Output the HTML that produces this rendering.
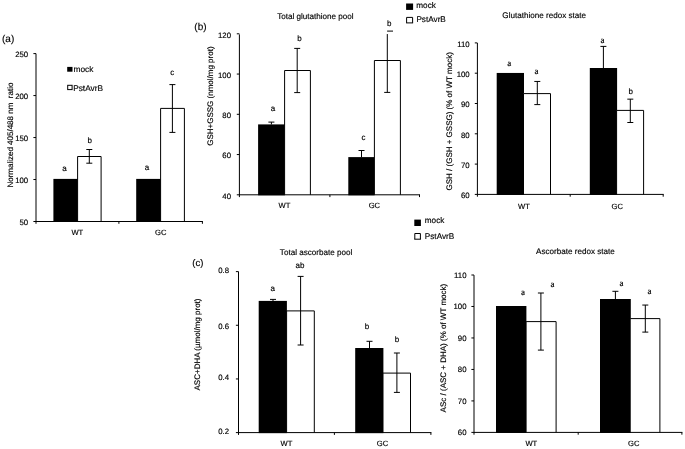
<!DOCTYPE html>
<html><head><meta charset="utf-8"><style>
html,body{margin:0;padding:0;background:#fff;}
svg{display:block;font-family:"Liberation Sans", sans-serif;text-rendering:geometricPrecision;filter:grayscale(1);}
text{fill:#000;stroke:#000;stroke-width:0.15px;}
</style></head><body>
<svg width="685" height="449" viewBox="0 0 685 449">
<rect x="0" y="0" width="685" height="449" fill="#fff"/>
<rect x="53.4" y="178.9" width="24.5" height="43.1" fill="#000"/>
<path d="M77.6 221.5V156.5H101.1V221.5" fill="#fff" stroke="#000" stroke-width="1"/>
<line x1="89.3" y1="149.5" x2="89.3" y2="163.2" stroke="#000" stroke-width="1"/>
<line x1="86.3" y1="149.5" x2="92.3" y2="149.5" stroke="#000" stroke-width="1"/>
<line x1="86.3" y1="163.2" x2="92.3" y2="163.2" stroke="#000" stroke-width="1"/>
<rect x="136.2" y="178.9" width="24.7" height="43.1" fill="#000"/>
<path d="M160.6 221.5V108.4H184.4V221.5" fill="#fff" stroke="#000" stroke-width="1"/>
<line x1="172.4" y1="84.6" x2="172.4" y2="132.4" stroke="#000" stroke-width="1"/>
<line x1="169.4" y1="84.6" x2="175.4" y2="84.6" stroke="#000" stroke-width="1"/>
<line x1="169.4" y1="132.4" x2="175.4" y2="132.4" stroke="#000" stroke-width="1"/>
<line x1="36.0" y1="53.6" x2="36.0" y2="223.8" stroke="#000" stroke-width="1"/>
<line x1="33.4" y1="53.6" x2="36.0" y2="53.6" stroke="#000" stroke-width="1"/>
<text x="28.2" y="56.69" font-size="7.8" text-anchor="end">250</text>
<line x1="33.4" y1="95.575" x2="36.0" y2="95.575" stroke="#000" stroke-width="1"/>
<text x="28.2" y="98.94" font-size="7.8" text-anchor="end">200</text>
<line x1="33.4" y1="137.55" x2="36.0" y2="137.55" stroke="#000" stroke-width="1"/>
<text x="28.2" y="140.94" font-size="7.8" text-anchor="end">150</text>
<line x1="33.4" y1="179.525" x2="36.0" y2="179.525" stroke="#000" stroke-width="1"/>
<text x="28.2" y="183.49" font-size="7.8" text-anchor="end">100</text>
<line x1="33.4" y1="221.5" x2="36.0" y2="221.5" stroke="#000" stroke-width="1"/>
<text x="28.2" y="225.29" font-size="7.8" text-anchor="end">50</text>
<line x1="36.0" y1="221.5" x2="202.9" y2="221.5" stroke="#000" stroke-width="1"/>
<line x1="118.9" y1="221.5" x2="118.9" y2="223.8" stroke="#000" stroke-width="1"/>
<line x1="202.4" y1="221.5" x2="202.4" y2="223.8" stroke="#000" stroke-width="1"/>
<text x="64.5" y="170.5" font-size="8" text-anchor="middle">a</text>
<text x="89.7" y="142.7" font-size="8" text-anchor="middle">b</text>
<text x="147" y="170" font-size="8" text-anchor="middle">a</text>
<text x="172.2" y="74.7" font-size="8" text-anchor="middle">c</text>
<text x="77.3" y="235" font-size="7.6" text-anchor="middle">WT</text>
<text x="160.7" y="235" font-size="7.6" text-anchor="middle">GC</text>
<text x="13.1" y="135.1" font-size="8" text-anchor="middle" transform="rotate(-90 13.1 135.1)">Normalized 405/488 nm&#160;&#160;ratio</text>
<text x="2" y="41.6" font-size="10" text-anchor="start">(a)</text>
<rect x="67.2" y="66.9" width="5.3" height="4.8" fill="#000"/>
<text x="73.6" y="71.8" font-size="8.3" text-anchor="start">mock</text>
<rect x="67.7" y="85.3" width="4.4" height="4.3" fill="#fff" stroke="#000" stroke-width="1"/>
<text x="73.2" y="90.8" font-size="8.3" text-anchor="start">PstAvrB</text>
<rect x="258.1" y="124.4" width="26.8" height="70.9" fill="#000"/>
<line x1="271.4" y1="122.1" x2="271.4" y2="124.5" stroke="#000" stroke-width="1"/>
<line x1="268.4" y1="122.1" x2="274.4" y2="122.1" stroke="#000" stroke-width="1"/>
<path d="M284.6 194.8V70.5H310.4V194.8" fill="#fff" stroke="#000" stroke-width="1"/>
<line x1="297.2" y1="48.4" x2="297.2" y2="92.6" stroke="#000" stroke-width="1"/>
<line x1="294.2" y1="48.4" x2="300.2" y2="48.4" stroke="#000" stroke-width="1"/>
<line x1="294.2" y1="92.6" x2="300.2" y2="92.6" stroke="#000" stroke-width="1"/>
<rect x="348.3" y="157.1" width="26.3" height="38.2" fill="#000"/>
<line x1="361.5" y1="150.5" x2="361.5" y2="157.2" stroke="#000" stroke-width="1"/>
<line x1="358.5" y1="150.5" x2="364.5" y2="150.5" stroke="#000" stroke-width="1"/>
<path d="M374.4 194.8V60.5H400.4V194.8" fill="#fff" stroke="#000" stroke-width="1"/>
<line x1="387.3" y1="34.05" x2="387.3" y2="92.4" stroke="#000" stroke-width="1"/>
<line x1="384.2" y1="92.4" x2="390.3" y2="92.4" stroke="#000" stroke-width="1"/>
<line x1="387.1" y1="31.1" x2="393.0" y2="31.1" stroke="#000" stroke-width="1"/>
<line x1="239.4" y1="34.4" x2="239.4" y2="197.10000000000002" stroke="#000" stroke-width="1"/>
<line x1="236.8" y1="33.80000000000001" x2="239.4" y2="33.80000000000001" stroke="#000" stroke-width="1"/>
<text x="231" y="37.69" font-size="7.8" text-anchor="end">120</text>
<line x1="236.8" y1="74.05" x2="239.4" y2="74.05" stroke="#000" stroke-width="1"/>
<text x="231" y="77.94" font-size="7.8" text-anchor="end">100</text>
<line x1="236.8" y1="114.30000000000001" x2="239.4" y2="114.30000000000001" stroke="#000" stroke-width="1"/>
<text x="231" y="118.19" font-size="7.8" text-anchor="end">80</text>
<line x1="236.8" y1="154.55" x2="239.4" y2="154.55" stroke="#000" stroke-width="1"/>
<text x="231" y="158.44" font-size="7.8" text-anchor="end">60</text>
<line x1="236.8" y1="194.8" x2="239.4" y2="194.8" stroke="#000" stroke-width="1"/>
<text x="231" y="198.69" font-size="7.8" text-anchor="end">40</text>
<line x1="239.4" y1="194.8" x2="420.0" y2="194.8" stroke="#000" stroke-width="1"/>
<line x1="329.9" y1="194.8" x2="329.9" y2="197.10000000000002" stroke="#000" stroke-width="1"/>
<line x1="419.5" y1="194.8" x2="419.5" y2="197.10000000000002" stroke="#000" stroke-width="1"/>
<text x="273" y="110.6" font-size="8" text-anchor="middle">a</text>
<text x="299.4" y="40.8" font-size="8" text-anchor="middle">b</text>
<text x="363.6" y="140.3" font-size="8" text-anchor="middle">c</text>
<text x="389.2" y="26.4" font-size="8" text-anchor="middle">b</text>
<text x="284.5" y="207.8" font-size="7.6" text-anchor="middle">WT</text>
<text x="374.4" y="207.8" font-size="7.6" text-anchor="middle">GC</text>
<text x="315.4" y="19.2" font-size="8.1" text-anchor="middle">Total glutathione pool</text>
<text x="213.1" y="96.1" font-size="8" text-anchor="middle" transform="rotate(-90 213.1 96.1)">GSH+GSSG (nmol/mg prot)</text>
<text x="194.3" y="30.4" font-size="10" text-anchor="start">(b)</text>
<rect x="406.1" y="3.5" width="7.0" height="6.4" fill="#000"/>
<text x="416.3" y="7.9" font-size="8.2" text-anchor="start">mock</text>
<path d="M406.6 22.9V17.4H412.6V22.9" fill="#fff" stroke="#000" stroke-width="1"/>
<line x1="406.1" y1="22.9" x2="413.1" y2="22.9" stroke="#000" stroke-width="1"/>
<text x="416.4" y="21.6" font-size="8.2" text-anchor="start">PstAvrB</text>
<rect x="496.7" y="72.95" width="27.3" height="121.95" fill="#000"/>
<path d="M523.5 194.4V93.6H550.5V194.4" fill="#fff" stroke="#000" stroke-width="1"/>
<line x1="537.3" y1="81.45" x2="537.3" y2="104.6" stroke="#000" stroke-width="1"/>
<line x1="534.3" y1="81.45" x2="540.3" y2="81.45" stroke="#000" stroke-width="1"/>
<line x1="534.3" y1="104.6" x2="540.3" y2="104.6" stroke="#000" stroke-width="1"/>
<rect x="589.8" y="68.0" width="27.3" height="126.9" fill="#000"/>
<line x1="603.4" y1="46.4" x2="603.4" y2="68.1" stroke="#000" stroke-width="1"/>
<line x1="600.4" y1="46.4" x2="606.4" y2="46.4" stroke="#000" stroke-width="1"/>
<path d="M616.6 194.4V110.4H643.6V194.4" fill="#fff" stroke="#000" stroke-width="1"/>
<line x1="630.3" y1="99.15" x2="630.3" y2="122.5" stroke="#000" stroke-width="1"/>
<line x1="627.3" y1="99.15" x2="633.3" y2="99.15" stroke="#000" stroke-width="1"/>
<line x1="627.3" y1="122.5" x2="633.3" y2="122.5" stroke="#000" stroke-width="1"/>
<line x1="477.4" y1="43.0" x2="477.4" y2="196.70000000000002" stroke="#000" stroke-width="1"/>
<line x1="474.79999999999995" y1="42.900000000000006" x2="477.4" y2="42.900000000000006" stroke="#000" stroke-width="1"/>
<text x="469.7" y="46.79" font-size="7.8" text-anchor="end">110</text>
<line x1="474.79999999999995" y1="73.20000000000002" x2="477.4" y2="73.20000000000002" stroke="#000" stroke-width="1"/>
<text x="469.7" y="77.09" font-size="7.8" text-anchor="end">100</text>
<line x1="474.79999999999995" y1="103.50000000000001" x2="477.4" y2="103.50000000000001" stroke="#000" stroke-width="1"/>
<text x="469.7" y="107.39" font-size="7.8" text-anchor="end">90</text>
<line x1="474.79999999999995" y1="133.8" x2="477.4" y2="133.8" stroke="#000" stroke-width="1"/>
<text x="469.7" y="137.69" font-size="7.8" text-anchor="end">80</text>
<line x1="474.79999999999995" y1="164.10000000000002" x2="477.4" y2="164.10000000000002" stroke="#000" stroke-width="1"/>
<text x="469.7" y="167.99" font-size="7.8" text-anchor="end">70</text>
<line x1="474.79999999999995" y1="194.4" x2="477.4" y2="194.4" stroke="#000" stroke-width="1"/>
<text x="469.7" y="198.29" font-size="7.8" text-anchor="end">60</text>
<line x1="477.4" y1="194.4" x2="663.7" y2="194.4" stroke="#000" stroke-width="1"/>
<line x1="570.2" y1="194.4" x2="570.2" y2="196.70000000000002" stroke="#000" stroke-width="1"/>
<line x1="663.2" y1="194.4" x2="663.2" y2="196.70000000000002" stroke="#000" stroke-width="1"/>
<text x="509.2" y="65.8" font-size="9" text-anchor="middle" font-family="Liberation Serif">a</text>
<text x="536.5" y="73.9" font-size="9" text-anchor="middle" font-family="Liberation Serif">a</text>
<text x="602.4" y="42.5" font-size="9" text-anchor="middle" font-family="Liberation Serif">a</text>
<text x="630.8" y="94.2" font-size="8" text-anchor="middle">b</text>
<text x="523.9" y="209" font-size="7.6" text-anchor="middle">WT</text>
<text x="617.2" y="209" font-size="7.6" text-anchor="middle">GC</text>
<text x="544.2" y="17.8" font-size="8.1" text-anchor="middle">Glutathione redox state</text>
<text x="452" y="121.35" font-size="8" text-anchor="middle" transform="rotate(-90 452 121.35)">GSH / (GSH + GSSG) (% of WT mock)</text>
<rect x="414.3" y="219.6" width="6.6" height="6.4" fill="#000"/>
<text x="424.8" y="223.1" font-size="8.2" text-anchor="start">mock</text>
<path d="M414.8 239.2V233.5H420.4V239.2" fill="#fff" stroke="#000" stroke-width="1"/>
<line x1="414.3" y1="239.2" x2="420.9" y2="239.2" stroke="#000" stroke-width="1"/>
<text x="424.8" y="238.9" font-size="8.2" text-anchor="start">PstAvrB</text>
<rect x="258.7" y="300.9" width="28.2" height="132.2" fill="#000"/>
<line x1="273.0" y1="299.4" x2="273.0" y2="301" stroke="#000" stroke-width="1"/>
<line x1="270.0" y1="299.4" x2="276.0" y2="299.4" stroke="#000" stroke-width="1"/>
<path d="M286.6 432.6V310.9H314.3V432.6" fill="#fff" stroke="#000" stroke-width="1"/>
<line x1="300.6" y1="276.4" x2="300.6" y2="345.0" stroke="#000" stroke-width="1"/>
<line x1="297.6" y1="276.4" x2="303.6" y2="276.4" stroke="#000" stroke-width="1"/>
<line x1="297.6" y1="345.0" x2="303.6" y2="345.0" stroke="#000" stroke-width="1"/>
<rect x="355.2" y="348.0" width="28.2" height="85.1" fill="#000"/>
<line x1="369.5" y1="341.3" x2="369.5" y2="348.1" stroke="#000" stroke-width="1"/>
<line x1="366.5" y1="341.3" x2="372.5" y2="341.3" stroke="#000" stroke-width="1"/>
<path d="M383.0 432.6V373.1H410.5V432.6" fill="#fff" stroke="#000" stroke-width="1"/>
<line x1="396.9" y1="353.0" x2="396.9" y2="392.4" stroke="#000" stroke-width="1"/>
<line x1="393.9" y1="353.0" x2="399.9" y2="353.0" stroke="#000" stroke-width="1"/>
<line x1="393.9" y1="392.4" x2="399.9" y2="392.4" stroke="#000" stroke-width="1"/>
<line x1="238.5" y1="271.6" x2="238.5" y2="434.90000000000003" stroke="#000" stroke-width="1"/>
<line x1="235.9" y1="271.62" x2="238.5" y2="271.62" stroke="#000" stroke-width="1"/>
<text x="229" y="272.79" font-size="7.8" text-anchor="end">0.8</text>
<line x1="235.9" y1="325.28000000000003" x2="238.5" y2="325.28000000000003" stroke="#000" stroke-width="1"/>
<text x="229" y="328.79" font-size="7.8" text-anchor="end">0.6</text>
<line x1="235.9" y1="378.94" x2="238.5" y2="378.94" stroke="#000" stroke-width="1"/>
<text x="229" y="380.19" font-size="7.8" text-anchor="end">0.4</text>
<line x1="235.9" y1="432.6" x2="238.5" y2="432.6" stroke="#000" stroke-width="1"/>
<text x="229" y="434.29" font-size="7.8" text-anchor="end">0.2</text>
<line x1="238.5" y1="432.6" x2="431.4" y2="432.6" stroke="#000" stroke-width="1"/>
<line x1="334.4" y1="432.6" x2="334.4" y2="434.90000000000003" stroke="#000" stroke-width="1"/>
<line x1="430.9" y1="432.6" x2="430.9" y2="434.90000000000003" stroke="#000" stroke-width="1"/>
<text x="272.8" y="291.2" font-size="8" text-anchor="middle">a</text>
<text x="299.9" y="268" font-size="8" text-anchor="middle">ab</text>
<text x="367.1" y="328.7" font-size="8" text-anchor="middle">b</text>
<text x="397" y="342.1" font-size="8" text-anchor="middle">b</text>
<text x="286.5" y="445.7" font-size="7.6" text-anchor="middle">WT</text>
<text x="382.5" y="445.7" font-size="7.6" text-anchor="middle">GC</text>
<text x="316.1" y="254.6" font-size="8.1" text-anchor="middle">Total ascorbate pool</text>
<text x="200.1" y="344.5" font-size="8" text-anchor="middle" transform="rotate(-90 200.1 344.5)">ASC+DHA (&#181;mol/mg prot)</text>
<text x="192.3" y="266" font-size="9.5" text-anchor="start">(c)</text>
<rect x="496.0" y="306.0" width="30.4" height="126.9" fill="#000"/>
<path d="M526.1 432.4V321.6H556.1V432.4" fill="#fff" stroke="#000" stroke-width="1"/>
<line x1="540.9" y1="293.0" x2="540.9" y2="350.1" stroke="#000" stroke-width="1"/>
<line x1="537.9" y1="293.0" x2="543.9" y2="293.0" stroke="#000" stroke-width="1"/>
<line x1="537.9" y1="350.1" x2="543.9" y2="350.1" stroke="#000" stroke-width="1"/>
<rect x="600.0" y="299.0" width="30.8" height="133.9" fill="#000"/>
<line x1="615.4" y1="291.3" x2="615.4" y2="299.1" stroke="#000" stroke-width="1"/>
<line x1="612.4" y1="291.3" x2="618.4" y2="291.3" stroke="#000" stroke-width="1"/>
<path d="M630.2 432.4V318.6H659.9V432.4" fill="#fff" stroke="#000" stroke-width="1"/>
<line x1="645.3" y1="305.05" x2="645.3" y2="332.1" stroke="#000" stroke-width="1"/>
<line x1="642.3" y1="305.05" x2="648.3" y2="305.05" stroke="#000" stroke-width="1"/>
<line x1="642.3" y1="332.1" x2="648.3" y2="332.1" stroke="#000" stroke-width="1"/>
<line x1="474.0" y1="275.1" x2="474.0" y2="434.7" stroke="#000" stroke-width="1"/>
<line x1="471.4" y1="275.0" x2="474.0" y2="275.0" stroke="#000" stroke-width="1"/>
<text x="466.5" y="277.99" font-size="7.8" text-anchor="end">110</text>
<line x1="471.4" y1="306.47999999999996" x2="474.0" y2="306.47999999999996" stroke="#000" stroke-width="1"/>
<text x="466.5" y="309.47" font-size="7.8" text-anchor="end">100</text>
<line x1="471.4" y1="337.96" x2="474.0" y2="337.96" stroke="#000" stroke-width="1"/>
<text x="466.5" y="340.95" font-size="7.8" text-anchor="end">90</text>
<line x1="471.4" y1="369.44" x2="474.0" y2="369.44" stroke="#000" stroke-width="1"/>
<text x="466.5" y="372.43" font-size="7.8" text-anchor="end">80</text>
<line x1="471.4" y1="400.91999999999996" x2="474.0" y2="400.91999999999996" stroke="#000" stroke-width="1"/>
<text x="466.5" y="403.91" font-size="7.8" text-anchor="end">70</text>
<line x1="471.4" y1="432.4" x2="474.0" y2="432.4" stroke="#000" stroke-width="1"/>
<text x="466.5" y="435.39" font-size="7.8" text-anchor="end">60</text>
<line x1="474.0" y1="432.4" x2="682.4" y2="432.4" stroke="#000" stroke-width="1"/>
<line x1="578.2" y1="432.4" x2="578.2" y2="434.7" stroke="#000" stroke-width="1"/>
<line x1="681.9" y1="432.4" x2="681.9" y2="434.7" stroke="#000" stroke-width="1"/>
<text x="523.1" y="295.0" font-size="9" text-anchor="middle" font-family="Liberation Serif">a</text>
<text x="552.6" y="286.8" font-size="9" text-anchor="middle" font-family="Liberation Serif">a</text>
<text x="621.5" y="285.8" font-size="9" text-anchor="middle" font-family="Liberation Serif">a</text>
<text x="649.5" y="293.5" font-size="9" text-anchor="middle" font-family="Liberation Serif">a</text>
<text x="531.3" y="445.8" font-size="7.6" text-anchor="middle">WT</text>
<text x="633.8" y="445.8" font-size="7.6" text-anchor="middle">GC</text>
<text x="575.4" y="253.9" font-size="8.1" text-anchor="middle">Ascorbate redox state</text>
<text x="445.9" y="348.1" font-size="8" text-anchor="middle" transform="rotate(-90 445.9 348.1)">ASc / (ASC + DHA) (% of WT mock)</text>
</svg>
</body></html>
